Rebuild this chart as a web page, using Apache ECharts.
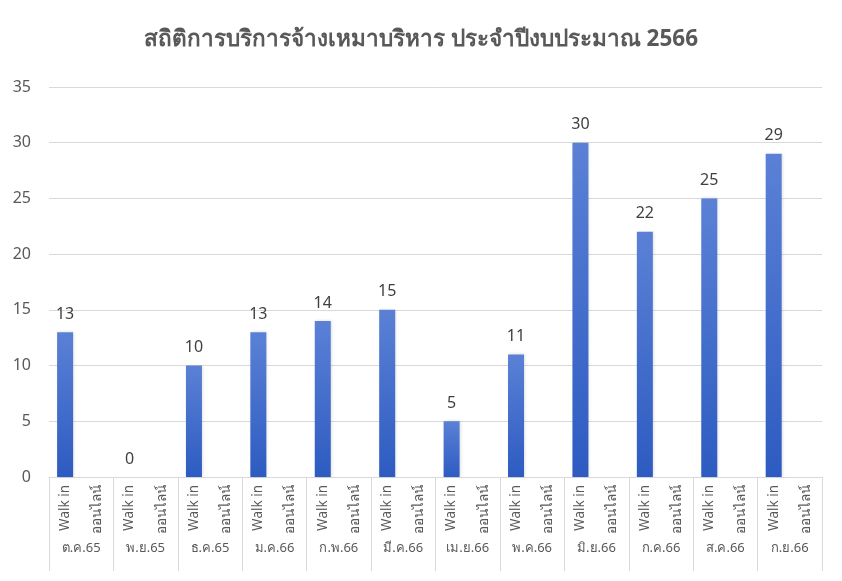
<!DOCTYPE html>
<html><head><meta charset="utf-8">
<script src="https://cdn.jsdelivr.net/npm/echarts@6/dist/echarts.min.js"></script>
<style>html,body{margin:0;padding:0;background:#fff}#c{width:842px;height:581px}</style>
</head><body><div id="c"></div>
<script>
const months = ['ต.ค.65','พ.ย.65','ธ.ค.65','ม.ค.66','ก.พ.66','มี.ค.66','เม.ย.66','พ.ค.66','มิ.ย.66','ก.ค.66','ส.ค.66','ก.ย.66'];
const subCats = ['Walk in','ออนไลน์'];
const walkIn = [13,0,10,13,14,15,5,11,30,22,25,29];
const online = [null,null,null,null,null,null,null,null,null,null,null,null];
const yTicks = {min:0,max:35,interval:5};

const cats = [];
const vals = [];
months.forEach((m,i)=>{
  cats.push(subCats[0]); vals.push(walkIn[i]);
  cats.push(subCats[1]); vals.push(online[i]);
});
const font = "'Noto Sans', 'DejaVu Sans', sans-serif";
const chart = echarts.init(document.getElementById('c'));
chart.setOption({
  animation:false,
  title:{text:'สถิติการบริการจ้างเหมาบริหาร ประจำปีงบประมาณ 2566',left:'center',top:23,
    textStyle:{fontFamily:font,fontSize:22.5,fontWeight:'bold',color:'#595959'}},
  grid:{left:49,right:20,top:87,bottom:104},
  xAxis:[{
    type:'category',data:cats,position:'bottom',
    axisLine:{lineStyle:{color:'#d9d9d9'}},
    axisTick:{show:false},
    axisLabel:{rotate:90,interval:0,margin:8,color:'#595959',fontSize:13.5,fontFamily:font}
  },{
    type:'category',data:months,position:'bottom',
    axisLine:{show:false},
    axisTick:{show:true,length:94,lineStyle:{color:'#d9d9d9'}},
    axisLabel:{interval:0,margin:65,color:'#595959',fontSize:13,fontFamily:font}
  }],
  yAxis:{type:'value',min:yTicks.min,max:yTicks.max,interval:yTicks.interval,
    axisLine:{show:false},axisTick:{show:false},
    splitLine:{lineStyle:{color:'#d9d9d9',width:1}},
    axisLabel:{margin:18,color:'#595959',fontSize:16,fontFamily:font}},
  series:[{
    type:'bar',xAxisIndex:0,data:vals,barWidth:16,
    itemStyle:{color:new echarts.graphic.LinearGradient(0,0,0,1,[{offset:0,color:'#5b81d6'},{offset:1,color:'#2d5bc1'}]),
      shadowColor:'rgba(0,0,0,0.15)',shadowBlur:3,shadowOffsetX:1},
    label:{show:true,position:'top',distance:10,color:'#404040',fontSize:16,fontFamily:font,
      formatter:p=>p.value==null?'':p.value}
  }]
});
</script></body></html>
